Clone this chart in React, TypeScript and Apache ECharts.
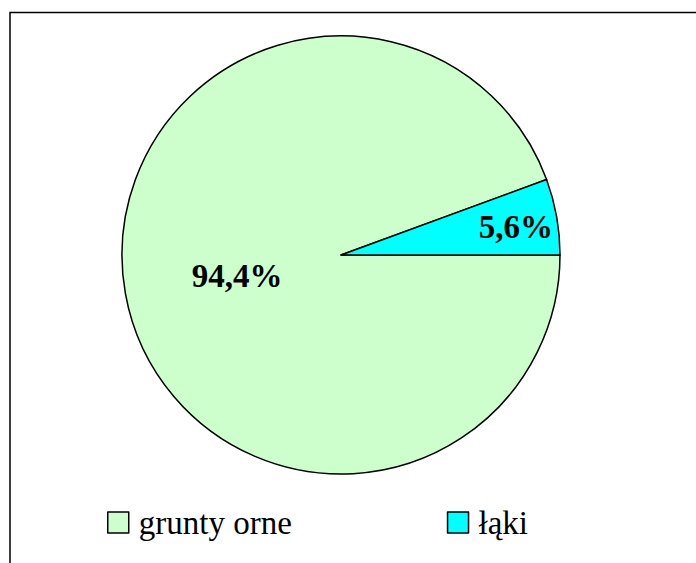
import React, { useEffect, useRef } from "react";
import * as echarts from "echarts";

const categories = ["grunty orne", "łąki"];
const values = [94.4, 5.6];
const colors = ["#CCFFCC", "#00FFFF"];
const labelTexts = ["94,4%", "5,6%"];

export default function App() {
  const ref = useRef<HTMLDivElement>(null);
  useEffect(() => {
    if (!ref.current) return;
    const chart = echarts.init(ref.current, null, { renderer: "svg" });
    chart.setOption({
      animation: false,
      backgroundColor: "#ffffff",
      graphic: [
        {
          type: "rect",
          shape: { x: 10, y: 12.5, width: 700, height: 570 },
          style: { fill: "none", stroke: "#000", lineWidth: 1.5 },
          z: 0,
        },
      ],
      legend: {
        data: categories,
        left: 107,
        top: 506,
        padding: 0,
        orient: "horizontal",
        itemWidth: 21,
        itemHeight: 21,
        itemGap: 155,
        icon: "rect",
        itemStyle: { borderColor: "#000", borderWidth: 1.5 },
        textStyle: {
          fontFamily: "Liberation Serif",
          fontSize: 33,
          color: "#000",
          padding: [0, 0, 0, 5],
        },
      },
      series: [
        {
          type: "pie",
          center: [341, 255],
          radius: 219,
          startAngle: 0,
          clockwise: true,
          silent: true,
          label: {
            show: true,
            position: "inside",
            fontFamily: "Liberation Serif",
            fontWeight: "bold",
            fontSize: 33,
            color: "#000",
            formatter: (p: any) => labelTexts[p.dataIndex],
          },
          labelLine: { show: false },
          labelLayout: (p: any) => (p.dataIndex === 1 ? { dx: 64, dy: -8 } : { dx: 7, dy: 1 }),
          itemStyle: { borderColor: "#000", borderWidth: 1.5 },
          data: categories.map((c, i) => ({
            name: c,
            value: values[i],
            itemStyle: { color: colors[i] },
          })),
        },
      ],
    });
    return () => chart.dispose();
  }, []);
  return (
    <div
      ref={ref}
      style={{ position: "absolute", left: 0, top: 0, width: 696, height: 563 }}
    />
  );
}
